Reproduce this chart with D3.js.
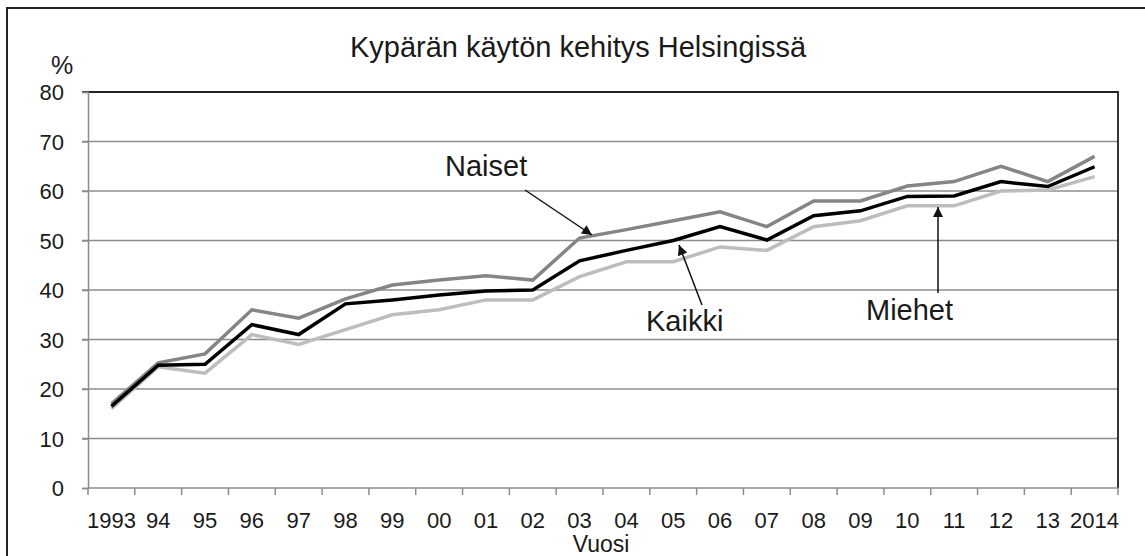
<!DOCTYPE html>
<html>
<head>
<meta charset="utf-8">
<script src="https://cdn.jsdelivr.net/npm/d3@7"></script>
<style>
  html, body { margin: 0; padding: 0; background: #fff; }
  svg { display: block; font-family: "Liberation Sans", Arial, sans-serif; }
</style>
</head>
<body>
<svg id="chart" width="1145" height="556"></svg>
<script>
const years = ["1993","94","95","96","97","98","99","00","01","02","03","04","05","06","07","08","09","10","11","12","13","2014"];
const naiset = [17, 25.3, 27.1, 36, 34.3, 38.2, 41, 42, 42.9, 42, 50.5, 52.2, 54, 55.8, 52.8, 58, 58, 61, 61.9, 65, 61.9, 67];
const kaikki = [16.5, 24.8, 25, 33, 31, 37.2, 38, 39, 39.8, 40, 45.9, 48, 50, 52.8, 50.1, 55, 56, 58.9, 59, 61.9, 60.9, 64.9];
const miehet = [16, 24.5, 23.2, 31, 29, 32, 35, 36, 38, 38, 42.7, 45.7, 45.7, 48.7, 48, 52.8, 54, 57, 57, 60, 60.2, 62.9];
const yTicks = [0, 10, 20, 30, 40, 50, 60, 70, 80];
const title = "Kypärän käytön kehitys Helsingissä";

const svg = d3.select("#chart");
const pL = 88, pR = 1118, pT = 92, pB = 488;

const x = d3.scaleBand().domain(years).range([pL, pR]).padding(0);
const y = d3.scaleLinear().domain([0, 80]).range([pB, pT]);

// outer frame
svg.append("rect").attr("x", 7).attr("y", 8).attr("width", 1160).attr("height", 570)
  .attr("fill", "none").attr("stroke", "#222").attr("stroke-width", 2);

// gridlines
svg.append("g").selectAll("line").data(yTicks.filter(d => d > 0 && d < 80)).join("line")
  .attr("x1", pL - 6).attr("x2", pR)
  .attr("y1", d => y(d)).attr("y2", d => y(d))
  .attr("stroke", "#8c8c8c").attr("stroke-width", 1.5);

// plot top/right border (dark)
svg.append("path")
  .attr("d", `M${pL - 6},${y(80)}H${pR}V${pB}`)
  .attr("fill", "none").attr("stroke", "#222").attr("stroke-width", 1.8);

// y axis
const yAxis = svg.append("g").attr("transform", `translate(${pL},0)`)
  .call(d3.axisLeft(y).tickValues(yTicks).tickSize(6).tickPadding(8).tickFormat(d3.format("d")));
yAxis.select(".domain").attr("stroke", "#8c8c8c").attr("stroke-width", 1.5);
yAxis.selectAll(".tick line").attr("stroke", "#8c8c8c").attr("stroke-width", 1.5);
yAxis.selectAll(".tick text").attr("font-size", 22).attr("fill", "#1a1a1a")
  .attr("font-family", "Liberation Sans, Arial, sans-serif").attr("x", -24).attr("dy", "0.36em");

// x axis (ticks on category boundaries)
const xg = svg.append("g").attr("transform", `translate(0,${pB})`);
xg.append("line").attr("x1", pL).attr("x2", pR).attr("y1", 0).attr("y2", 0)
  .attr("stroke", "#8c8c8c").attr("stroke-width", 1.5);
const bounds = years.map(d => x(d)).concat([x(years[years.length - 1]) + x.bandwidth()]);
xg.selectAll("line.tk").data(bounds).join("line").attr("class", "tk")
  .attr("x1", d => d).attr("x2", d => d).attr("y1", 0).attr("y2", 7)
  .attr("stroke", "#8c8c8c").attr("stroke-width", 1.5);
xg.selectAll("text").data(years).join("text")
  .attr("x", d => x(d) + x.bandwidth() / 2).attr("y", 40)
  .attr("text-anchor", "middle").attr("font-size", 22).attr("fill", "#1a1a1a")
  .text(d => d);

// lines
const line = d3.line().x((d, i) => x(years[i]) + x.bandwidth() / 2).y(d => y(d));
const series = [
  { data: miehet, color: "#bdbdbd" },
  { data: naiset, color: "#858585" },
  { data: kaikki, color: "#000000" }
];
svg.append("g").selectAll("path").data(series).join("path")
  .attr("d", d => line(d.data)).attr("fill", "none")
  .attr("stroke", d => d.color).attr("stroke-width", 3.5).attr("stroke-linejoin", "miter");

// titles
svg.append("text").attr("x", 578).attr("y", 57).attr("text-anchor", "middle")
  .attr("font-size", 29).attr("fill", "#1a1a1a").text(title);
svg.append("text").attr("x", 51).attr("y", 74).attr("font-size", 25).attr("fill", "#1a1a1a").text("%");
svg.append("text").attr("x", (pL + pR) / 2 - 2).attr("y", 552).attr("text-anchor", "middle")
  .attr("font-size", 23).attr("fill", "#1a1a1a").text("Vuosi");

// annotations with arrows
const defs = svg.append("defs");
defs.append("marker").attr("id", "arr").attr("viewBox", "0 0 10 10").attr("refX", 10).attr("refY", 5)
  .attr("markerWidth", 15).attr("markerHeight", 10).attr("markerUnits", "userSpaceOnUse").attr("orient", "auto")
  .append("path").attr("d", "M0,0L10,5L0,10Z").attr("fill", "#111");

const notes = [
  { text: "Naiset", tx: 445, ty: 176, x1: 525, y1: 190, x2: 592, y2: 235 },
  { text: "Kaikki", tx: 646, ty: 331, x1: 702, y1: 305, x2: 679, y2: 245 },
  { text: "Miehet", tx: 866, ty: 320, x1: 938, y1: 293, x2: 938, y2: 207 }
];
notes.forEach(n => {
  svg.append("line").attr("x1", n.x1).attr("y1", n.y1).attr("x2", n.x2).attr("y2", n.y2)
    .attr("stroke", "#111").attr("stroke-width", 1.5).attr("marker-end", "url(#arr)");
  svg.append("text").attr("x", n.tx).attr("y", n.ty).attr("font-size", 29).attr("fill", "#1a1a1a").text(n.text);
});
</script>
</body>
</html>
